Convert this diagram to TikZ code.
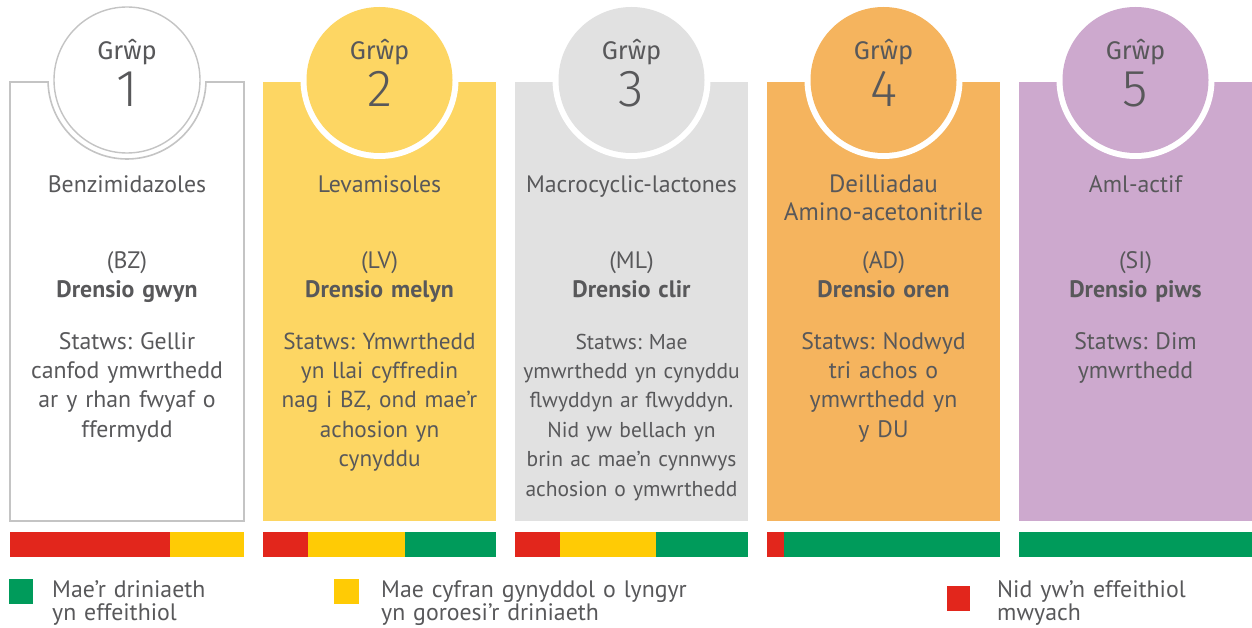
\documentclass[tikz,border=0pt]{standalone}
\usepackage{fontspec}
\setmainfont{PT Sans}
\newfontfamily\grpfont{Fira Sans}
\newfontfamily\numfont{Fira Sans Light}
\frenchspacing
\definecolor{txt}{HTML}{58585A}
\definecolor{bord}{HTML}{C4C4C4}
\definecolor{pY}{HTML}{FDD663}
\definecolor{pG}{HTML}{E1E1E1}
\definecolor{pO}{HTML}{F5B45E}
\definecolor{pP}{HTML}{CDA9CE}
\definecolor{bR}{HTML}{E2261C}
\definecolor{bY}{HTML}{FFCB05}
\definecolor{bG}{HTML}{009B5B}
\tikzset{
  grp/.style={anchor=base, inner sep=0pt, text=txt, font=\grpfont\fontsize{25.5}{28}\selectfont},
  num/.style={anchor=base, inner sep=0pt, text=txt, font=\numfont\fontsize{52}{56}\selectfont},
  body/.style={anchor=base, inner sep=0pt, text=txt, align=center, text width=234pt, font=\fontsize{23.8}{29.4}\selectfont},
  bodyb/.style={body, font=\fontsize{23.8}{29.4}\selectfont\bfseries},
  leg/.style={anchor=base west, inner sep=0pt, text=txt, align=left, text width=400pt, font=\fontsize{23.8}{23.5}\selectfont},
}
\newcommand\mypanel[4]{%
  \fill[#4] (#2,82) rectangle (#3,521);
  \fill[white] ({(#2+#3)/2},80) circle[radius=79pt];
  \fill[#4] ({(#2+#3)/2},80) circle[radius=73pt];
  \node[grp] (g#1) at ({(#2+#3)/2},60) {Grŵp};
  \node[num] (n#1) at ({(#2+#3)/2},107) {#1};
}
\begin{document}
\begin{tikzpicture}[x=1pt,y=-1pt]
\useasboundingbox (0,0) rectangle (1252,628);
% panel 1
\draw[bord, line width=2.4pt, fill=white] (10,82) rectangle (244,521);
\fill[white] (127,80) circle[radius=79pt];
\begin{scope}
  \clip (0,81.5) rectangle (260,530);
  \draw[bord, line width=1.6pt] (127,80) circle[radius=79pt];
\end{scope}
\draw[bord, line width=1.4pt, fill=white] (127,80) circle[radius=73pt];
\node[grp] (g1) at (127,60) {Grŵp};
\node[num] (n1) at (127,107) {1};
% other panels
\mypanel{2}{263}{496}{pY}
\mypanel{3}{515}{748}{pG}
\mypanel{4}{767}{1000}{pO}
\mypanel{5}{1019}{1252}{pP}
% texts
\node[body] (t1a) at (127,193) {Benzimidazoles};
\node[body] (t1b) at (127,269) {(BZ)};
\node[bodyb] (t1c) at (127,298) {Drensio gwyn};
\node[body] (t1d) at (127,349) {Statws: Gellir\\canfod ymwrthedd\\ar y rhan fwyaf o\\ffermydd};

\node[body] (t2a) at (379.5,193) {Levamisoles};
\node[body] (t2b) at (379.5,269) {(LV)};
\node[bodyb] (t2c) at (379.5,298) {Drensio melyn};
\node[body, font=\fontsize{23.2}{29.4}\selectfont] (t2d) at (379.5,349) {Statws: Ymwrthedd\\yn llai cyffredin\\nag i BZ, ond mae’r\\achosion yn\\cynyddu};

\node[body] (t3a) at (631.5,193) {Macrocyclic-lactones};
\node[body] (t3b) at (631.5,269) {(ML)};
\node[bodyb] (t3c) at (631.5,298) {Drensio clir};
\node[body, font=\fontsize{21.5}{29.4}\selectfont] (t3d) at (631.5,349) {Statws: Mae\\ymwrthedd yn cynyddu\\flwyddyn ar flwyddyn.\\Nid yw bellach yn\\brin ac mae’n cynnwys\\achosion o ymwrthedd};

\node[body, font=\fontsize{25}{28}\selectfont] (t4a) at (883.5,193) {Deilliadau\\Amino-acetonitrile};
\node[body] (t4b) at (883.5,269) {(AD)};
\node[bodyb] (t4c) at (883.5,298) {Drensio oren};
\node[body] (t4d) at (883.5,349) {Statws: Nodwyd\\tri achos o\\ymwrthedd yn\\y DU};

\node[body] (t5a) at (1135.5,193) {Aml-actif};
\node[body] (t5b) at (1135.5,269) {(SI)};
\node[bodyb] (t5c) at (1135.5,298) {Drensio piws};
\node[body] (t5d) at (1135.5,349) {Statws: Dim\\ymwrthedd};
% bars
\fill[bR] (10,532) rectangle (170,557);
\fill[bY] (170,532) rectangle (244,557);
\fill[bR] (263,532) rectangle (308,557);
\fill[bY] (308,532) rectangle (405,557);
\fill[bG] (405,532) rectangle (496,557);
\fill[bR] (515,532) rectangle (560,557);
\fill[bY] (560,532) rectangle (656,557);
\fill[bG] (656,532) rectangle (748,557);
\fill[bR] (767,532) rectangle (784,557);
\fill[bG] (784,532) rectangle (1000,557);
\fill[bG] (1019,532) rectangle (1252,557);
% legend
\fill[bG] (9,579) rectangle (33,604);
\node[leg] (l1) at (52,597) {Mae’r driniaeth\\yn effeithiol};
\fill[bY] (334,579) rectangle (359,604);
\node[leg] (l2) at (381,597) {Mae cyfran gynyddol o lyngyr\\yn goroesi’r driniaeth};
\fill[bR] (947,586) rectangle (970,611);
\node[leg, text width=240pt] (l3) at (997,597) {Nid yw’n effeithiol\\mwyach};
\end{tikzpicture}
\end{document}
